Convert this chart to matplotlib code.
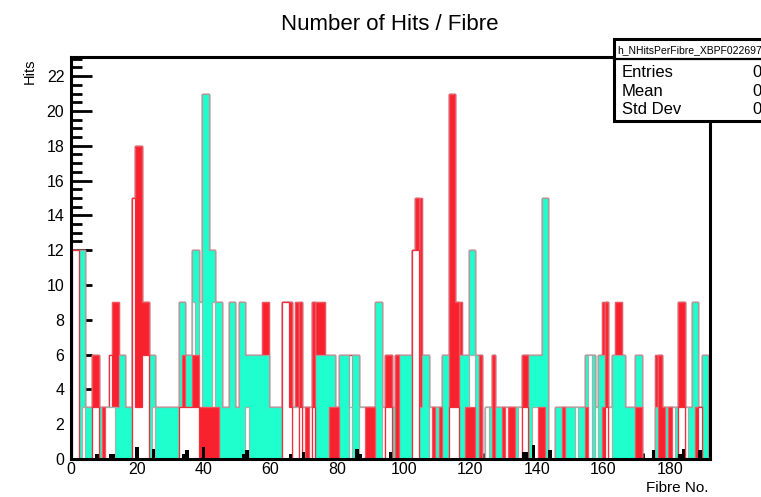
import matplotlib
matplotlib.use("Agg")
import matplotlib.pyplot as plt
import numpy as np
from matplotlib.patches import Rectangle
from matplotlib.lines import Line2D
from matplotlib.ticker import MultipleLocator

plt.rcParams['font.family'] = ['Liberation Sans', 'DejaVu Sans']

# hits per fibre, one entry per fibre (0..191), stacked bottom -> top
# w = white/red outline, r = red, v = white/cyan outline, c = cyan
fibre_stack = [
    "", "w12", "w12", "c12", "v3 c9", "c3", "c3", "w3 r3",
    "w3 r3", "c3", "r3", "v3", "v3 w3", "v3 r6", "c3 r6", "c6",
    "c6", "c3", "c3", "w15", "w3 r15", "w3 r15", "w6 r3", "w6 r3",
    "c6", "v3 c3", "c3", "c3", "c3", "c3", "c3", "c3",
    "c3", "w3 c6", "w3 r3 c3", "w3 c3", "w3 c3", "w3 r3 v3 c3", "w3 r3 c6", "r3 v6",
    "r3 c18", "r3 c18", "r3 c9", "r3 v6 c3", "r3 c6", "c9", "c3", "c3",
    "c9", "c9", "c3", "c9", "c9", "v3 c3", "c6", "c6",
    "c6", "c6", "c6 r3", "c6 r3", "c3", "c3", "c3", "c3",
    "w9", "w9", "w3 r6", "v3", "v3 r6", "w3 r6", "v3", "r3",
    "v3", "w3 r6", "c6 r3", "c6 r3", "c6 r3", "c6", "r3 c3", "r3 c3",
    "r3", "c6", "c6", "c6", "v3 w3", "c6", "c6", "v3",
    "v3", "r3", "r3", "r3", "c9", "c9", "v3", "w3 r3",
    "w3 r3", "c3", "r6", "c6", "c6", "c6", "c6", "w12",
    "w12 r3", "c3 r12", "c6", "c6", "v3", "r3", "c3", "r3",
    "c6", "c6", "w3 r18", "w3 r18", "w3 r6", "c6 r3", "c6", "r3 c3",
    "r3 v3 c6", "r3 v3 c6", "c6", "r6", "", "v3", "c3", "r6",
    "c3", "c3", "r3", "v3", "r3", "r3", "c3", "v3",
    "w3 r3", "w3 r3", "c6", "v3 c3", "v3 c3", "r3 c3", "r3 c12", "c15",
    "", "", "c3", "c3", "r3", "c3", "c3", "c3",
    "v3", "c3", "c3", "r3 c3", "v6", "c6", "v3", "c6",
    "r3 c3 r3", "w3 r6", "v3", "c6", "c6 r3", "c6 r3", "c6", "c3",
    "c3", "c3", "r3 c3", "r3 c3", "", "", "", "",
    "c3 r3", "r6", "r3", "c3", "r3", "v3", "c3", "w3 r6",
    "w3 r6", "v3", "c3", "c9", "r3 c6", "w3", "c6", "c6",
]

black_bins = [8, 12, 13, 20, 25, 34, 35, 40, 52, 53, 66, 70, 86, 87, 96, 136, 137, 139, 144, 175, 183, 184, 189]
black_hits = [0.3, 0.3, 0.3, 0.7, 0.6, 0.3, 0.5, 0.7, 0.3, 0.5, 0.3, 0.4, 0.6, 0.3, 0.4, 0.4, 0.4, 0.8, 0.5, 0.5, 0.3, 0.6, 0.5]

x_ticks = list(range(0, 181, 20))
y_ticks = list(range(0, 23, 2))

RED = '#f8222f'
CYAN = '#1fffcd'
styles = {
    'w': ('white', '#ef2d3b'),
    'r': (RED, '#f45361'),
    'v': ('white', '#9fb3ad'),
    'c': (CYAN, '#a2a2a2'),
}
order = ['w', 'r', 'v', 'c', 'w', 'r', 'v', 'c']

n_bins = len(fibre_stack)
layers = np.zeros((len(order), n_bins))
for i, prof in enumerate(fibre_stack):
    k = -1
    for seg in prof.split():
        kind, h = seg[0], float(seg[1:])
        k = next(j for j in range(k + 1, len(order)) if order[j] == kind)
        layers[k, i] = h
cum = layers.cumsum(axis=0)
edges = np.arange(n_bins + 1) - 0.5

fig = plt.figure(figsize=(7.61, 4.97), dpi=100)
ax = fig.add_axes([70.5 / 761, 38 / 497, 639.5 / 761, 402 / 497])
ax.set_axisbelow(True)

# THStack style: draw the cumulative sums from the top down
for k in reversed(range(len(order))):
    face, edge = styles[order[k]]
    ax.stairs(cum[k], edges, fill=True, facecolor=face, edgecolor=edge, linewidth=0.9)

ax.bar(black_bins, black_hits, width=1, color='black', zorder=2)

ax.set_xlim(0, 192)
ax.set_ylim(0, 23.1)
ax.set_xticks(x_ticks)
ax.set_yticks(y_ticks)
ax.xaxis.set_minor_locator(MultipleLocator(4))
ax.yaxis.set_minor_locator(MultipleLocator(0.5))
ax.tick_params(axis='y', which='major', direction='in', length=15, width=2, labelsize=11.5, pad=4.5)
ax.tick_params(axis='y', which='minor', direction='in', length=8, width=2)
ax.tick_params(axis='x', which='major', direction='in', length=8.5, width=2, labelsize=11.5, pad=2)
ax.tick_params(axis='x', which='minor', direction='in', length=4.5, width=2)
for s in ax.spines.values():
    s.set_linewidth(2.2)

fig.text(390 / 761, 1 - 25 / 497, 'Number of Hits / Fibre', ha='center', va='center', fontsize=16)
fig.text(30 / 761, 1 - 58 / 497, 'Hits', rotation=90, ha='center', va='top', fontsize=10.5)
fig.text(708 / 761, 1 - 488 / 497, 'Fibre No.', ha='right', va='center', fontsize=11)

# stats box (runs off the right edge)
bx0, by0, by1 = 613.5 / 761, 1 - 121 / 497, 1 - 39 / 497
fig.add_artist(Rectangle((bx0, by0), 0.3, by1 - by0, transform=fig.transFigure,
                         facecolor='white', edgecolor='black', linewidth=2.2, zorder=5))
fig.add_artist(Line2D([bx0, 1.0], [1 - 59 / 497] * 2, transform=fig.transFigure,
                      color='black', linewidth=1.6, zorder=6))
fig.text(617 / 761, 1 - 50 / 497, 'h_NHitsPerFibre_XBPF022697', fontsize=7.5,
         ha='left', va='center', zorder=7)
for label, yy in [('Entries', 72), ('Mean', 91), ('Std Dev', 110)]:
    fig.text(622 / 761, 1 - yy / 497, label, fontsize=12, ha='left', va='center', zorder=7)
    fig.text(752 / 761, 1 - yy / 497, '0', fontsize=12, ha='left', va='center', zorder=7)

fig.savefig('out.png', dpi=100)
